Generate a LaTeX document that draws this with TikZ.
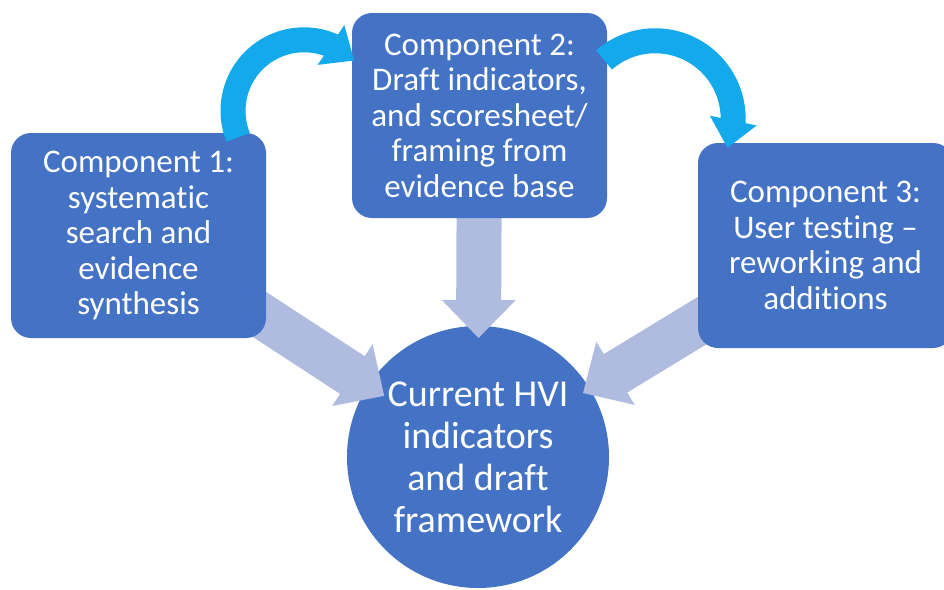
\documentclass[tikz,border=0pt]{standalone}
\usepackage{fontspec}
\setmainfont{Carlito}[Ligatures=NoCommon]
\usetikzlibrary{arrows.meta,bending,calc}
\definecolor{boxblue}{HTML}{4472C4}
\definecolor{lightarr}{HTML}{AFBCE0}
\definecolor{cyanarr}{HTML}{13A9EA}
\pgfdeclarelayer{bg}
\pgfsetlayers{bg,main}
\newcommand{\blockarrow}[3]{%
  \path ($(#2)!38pt!(#1)$) coordinate (#3b);
  \fill[lightarr] ($(#1)!22.5pt!90:(#2)$) -- ($(#3b)!22.5pt!90:(#2)$) -- ($(#3b)!37pt!90:(#2)$) -- (#2)
     -- ($(#3b)!37pt!-90:(#2)$) -- ($(#3b)!22.5pt!-90:(#2)$) -- ($(#1)!22.5pt!-90:(#2)$) -- cycle;}
\begin{document}
\begin{tikzpicture}[x=1pt,y=-1pt,
  box/.style={fill=boxblue, rounded corners=20pt, minimum width=255pt, minimum height=205pt,
    inner sep=0pt, text=white, align=center, font=\fontsize{33}{35.5}\selectfont},
  bigcircle/.style={circle, fill=boxblue, minimum size=262pt, inner sep=0pt},
  circtext/.style={text=white, align=center, font=\fontsize{38}{42}\selectfont, inner sep=0pt},
  cyanarrow/.style={draw=cyanarr, line width=25pt, -{Triangle[width=46pt,length=28pt]}}]
\useasboundingbox (0,0) rectangle (944,589);
% boxes
\node[box] (c1) at (138.5,235.5) {Component 1:\\systematic\\search and\\evidence\\synthesis};
\node[box] (c2) at (479.5,115.5) {Component 2:\\Draft indicators,\\and scoresheet/\\framing from\\evidence base};
\node[box] (c3) at (825.5,245.5) {Component 3:\\User testing –\\reworking and\\additions};
% circle and block arrows underneath
\begin{pgfonlayer}{bg}
\node[bigcircle] (hvi) at (478,457) {};
\path ($(hvi.center)!112pt!(c1.center)$) coordinate (t1);
\path ($(hvi.center)!119pt!(c2.center)$) coordinate (t2);
\path ($(hvi.center)!123pt!(c3.center)$) coordinate (t3);
\blockarrow{c1.center}{t1}{a1}
\blockarrow{c2.center}{t2}{a2}
\blockarrow{c3.center}{t3}{a3}
\end{pgfonlayer}
\node[circtext] (hvitext) at (hvi.center) {Current HVI\\indicators\\and draft\\framework};
% curved arrows
\coordinate (s1) at ($(c1.north east)+(-28,4.6)$);
\coordinate (s2) at ($(c2.north east)+(-3.2,47.1)$);
\draw[cyanarrow] (s1) arc[start angle=158, end angle=315, radius=71];
\draw[cyanarrow] (s2) arc[start angle=229, end angle=382, radius=78];
\end{tikzpicture}
\end{document}
